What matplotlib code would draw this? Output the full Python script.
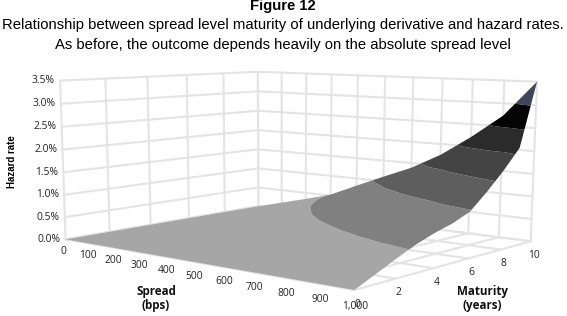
import numpy as np
import matplotlib
matplotlib.use("Agg")
import matplotlib.pyplot as plt

# ======================================
# data
# ======================================
spread = np.arange(0, 1001, 100)
maturity = np.arange(0, 11)
hazard_ticks = [0, 0.5, 1, 1.5, 2, 2.5, 3, 3.5]
hazard_labels = ["0.0%", "0.5%", "1.0%", "1.5%", "2.0%", "2.5%", "3.0%", "3.5%"]
spread_labels = ["0", "100", "200", "300", "400", "500", "600", "700", "800", "900", "1,000"]
maturity_ticks = [0, 2, 4, 6, 8, 10]

# hazard rate in %, one row per maturity, one column per spread
m0 = [0, 0, 0, 0, 0, 0, 0, 0, 0, 0, 0]
m1 = [0, .017, .034, .051, .068, .085, .102, .119, .14, .165, .19]
m2 = [0, .033, .066, .099, .132, .165, .198, .24, .29, .335, .38]
m3 = [0, .05, .10, .15, .20, .25, .30, .37, .44, .50, .56]
m4 = [0, .069, .138, .207, .276, .345, .414, .49, .56, .63, .70]
m5 = [0, .086, .172, .259, .345, .431, .515, .589, .663, .736, .81]
m6 = [0, .104, .207, .31, .414, .515, .606, .697, .788, .879, .97]
m7 = [0, .121, .242, .362, .483, .606, .729, .852, .975, 1.138, 1.31]
m8 = [0, .138, .276, .414, .563, .731, .899, 1.082, 1.286, 1.49, 1.69]
m9 = [0, .156, .313, .469, .678, .90, 1.132, 1.373, 1.618, 1.868, 2.12]
m10 = [0, .172, .345, .529, .824, 1.11, 1.389, 1.75, 2.21, 2.73, 3.50]
hazard = np.array([m0, m1, m2, m3, m4, m5, m6, m7, m8, m9, m10])

band_levels = [0, .5, 1, 1.5, 2, 2.5, 3, 3.51]
band_colors = ["#a6a6a6", "#808080", "#5e5e5e", "#444444", "#2b2b2b", "#040404", "#40455a"]

# ======================================
# camera: box corners -> pixels, fitted as a perspective matrix
# ======================================
box_pts = [(0, 0, 0), (1000, 0, 0), (1000, 10, 0), (0, 10, 0),
           (0, 0, 3.5), (0, 10, 3.5), (1000, 10, 3.5)]
px_pts = [(66, 240), (354, 290), (531, 241), (258, 206),
          (60, 80), (258, 72), (537, 82)]

rows = []
rhs = []
for (a, b, c), (u, v) in zip(box_pts, px_pts):
    rows.append([a, b, c, 1, 0, 0, 0, 0, -u*a, -u*b, -u*c])
    rhs.append(u)
    rows.append([0, 0, 0, 0, a, b, c, 1, -v*a, -v*b, -v*c])
    rhs.append(v)
P = np.linalg.lstsq(np.array(rows, float), np.array(rhs, float), rcond=None)[0]
P = np.append(P, 1.0).reshape(3, 4)


def project(s, m, z):
    s, m, z = np.broadcast_arrays(np.asarray(s, float), np.asarray(m, float), np.asarray(z, float))
    w = P[2, 0]*s + P[2, 1]*m + P[2, 2]*z + P[2, 3]
    x = (P[0, 0]*s + P[0, 1]*m + P[0, 2]*z + P[0, 3]) / w
    y = (P[1, 0]*s + P[1, 1]*m + P[1, 2]*z + P[1, 3]) / w
    return x, y


# ======================================
# figure in pixel coordinates
# ======================================
plt.rcParams["font.family"] = ["Liberation Sans", "DejaVu Sans"]
fig = plt.figure(figsize=(5.67, 3.16), dpi=100)
ax = fig.add_axes([0, 0, 1, 1])
ax.set_xlim(0, 567)
ax.set_ylim(316, 0)
ax.axis("off")

grid = dict(color="#e4e4e4", lw=1.5, solid_capstyle="round", zorder=1)
top = hazard_ticks[-1]

# left wall and back wall
for z in hazard_ticks:
    ax.plot(*project([0, 0, 1000], [0, 10, 10], z), **grid)
for m in maturity_ticks:
    ax.plot(*project(0, m, [0, top]), **grid)
for s in spread:
    ax.plot(*project(s, 10, [0, top]), **grid)

# floor
for m in maturity_ticks:
    ax.plot(*project([0, 1000], m, 0), **grid)
for s in spread:
    ax.plot(*project(s, [0, 10], 0), **grid)

# surface, one flat grey per 0.5% band
S, M = np.meshgrid(spread, maturity)
X, Y = project(S, M, hazard)
ax.contourf(X, Y, hazard, levels=band_levels, colors=band_colors, zorder=3, antialiased=True)

# tick labels
tick_kw = dict(fontsize=7.4, family=["Open Sans", "DejaVu Sans"], color="#222222", zorder=4)
for z, lab in zip(hazard_ticks, hazard_labels):
    x, y = project(0, 0, z)
    ax.text(x - 5, y, lab, ha="right", va="center", **tick_kw)
for s, lab in zip(spread, spread_labels):
    x, y = project(s, 0, 0)
    ax.text(x - 2 + s*0.003, y + 12 + s*0.004, lab, ha="center", va="center", **tick_kw)
for m in maturity_ticks:
    x, y = project(1000, m, 0)
    # the maturity 0 label sits just inside the 1,000 spread label, as in the source
    ax.text(x + 3, y + 14, str(m), ha="center", va="center", **tick_kw)

# axis titles
label_kw = dict(fontsize=8.4, family=["Open Sans", "DejaVu Sans"], fontweight="bold",
                color="#111111", ha="center", va="center", linespacing=1.1)
ax.text(156, 299, "Spread\n(bps)", **label_kw)
ax.text(482, 298, "Maturity\n(years)", **label_kw)
ax.text(12, 162, "Hazard rate", rotation=90, fontsize=7, fontweight="bold",
        family=["Liberation Sans Narrow", "Liberation Sans"], ha="center", va="center")

# title block
ax.text(283, 6, "Figure 12", fontsize=10.7, fontweight="bold", ha="center", va="center")
ax.text(283, 25, "Relationship between spread level maturity of underlying derivative and hazard rates.",
        fontsize=10.7, ha="center", va="center")
ax.text(283, 44.5, "As before, the outcome depends heavily on the absolute spread level",
        fontsize=10.7, ha="center", va="center")

fig.savefig("out.png", dpi=100)
plt.close(fig)
